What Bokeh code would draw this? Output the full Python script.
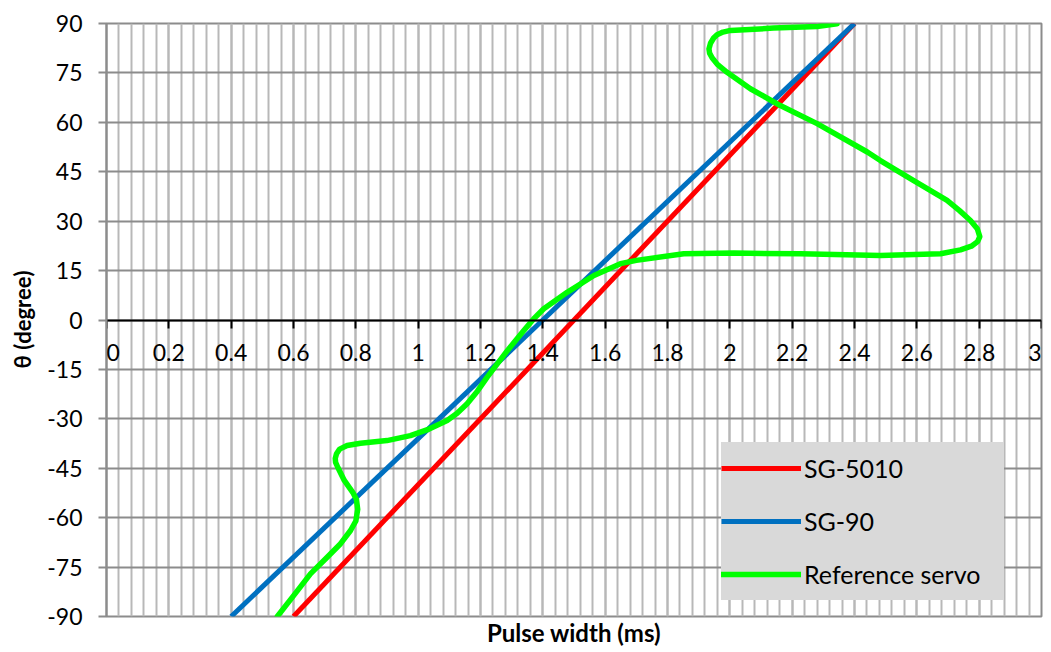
from bokeh.plotting import figure
from bokeh.models import (SingleIntervalTicker, NumeralTickFormatter, LinearAxis,
                          FixedTicker, Range1d, Label)
from bokeh.embed import file_html
from bokeh.resources import INLINE

# ---------------- data ----------------
sg5010_pulse = [0.6, 2.4]
sg5010_angle = [-90, 90]

sg90_pulse = [0.4, 2.4]
sg90_angle = [-90, 90]

ref_pulse = [0.548, 0.601, 0.655, 0.708, 0.751, 0.783, 0.800, 0.806, 0.802, 0.790,
             0.763, 0.742, 0.735, 0.734, 0.738, 0.748, 0.772, 0.815, 0.900, 0.975,
             1.030, 1.093, 1.125, 1.157, 1.190, 1.221, 1.286, 1.339, 1.371, 1.403,
             1.478, 1.564, 1.649, 1.700, 1.852, 2.013, 2.227, 2.483, 2.676, 2.740,
             2.775, 2.795, 2.802, 2.794, 2.772, 2.737, 2.697, 2.590, 2.483,
             2.441, 2.280, 2.162, 2.066, 1.991, 1.960, 1.943, 1.935, 1.933, 1.938,
             1.948, 1.959, 1.978, 2.002, 2.141, 2.280, 2.344]
ref_angle = [-90.0, -83.6, -77.0, -72.0, -67.9, -63.9, -61.0, -57.5, -54.5, -52.3,
             -48.7, -44.7, -43.2, -42.0, -40.6, -39.2, -38.1, -37.4, -36.6, -35.1,
             -33.3, -30.5, -28.3, -25.4, -21.6, -17.4, -9.3, -3.2, 0.4, 3.4,
             8.4, 13.5, 17.1, 18.1, 20.1, 20.3, 20.1, 19.6, 20.1, 21.3,
             22.4, 23.8, 25.3, 27.7, 30.2, 33.2, 36.3, 42.3, 48.4,
             51.0, 59.6, 65.1, 70.2, 75.2, 77.6, 79.6, 81.0, 82.3, 84.0,
             85.6, 86.6, 87.4, 87.9, 88.6, 89.1, 89.9]

series_names = ["SG-5010", "SG-90", "Reference servo"]
series_colors = ["#ff0000", "#0070c0", "#00ff00"]

x_ticks = [0, 0.2, 0.4, 0.6, 0.8, 1, 1.2, 1.4, 1.6, 1.8, 2, 2.2, 2.4, 2.6, 2.8, 3]
x_tick_labels = ["0", "0.2", "0.4", "0.6", "0.8", "1", "1.2", "1.4", "1.6", "1.8",
                 "2", "2.2", "2.4", "2.6", "2.8", "3"]
x_min, x_max, x_step = 0, 3, 0.2
y_min, y_max, y_step = -90, 90, 15

FONT = "Lato"
GRID_MAJOR = "#8c8c8c"
GRID_MINOR = "#b8b8b8"

# ---------------- figure ----------------
p = figure(width=1049, height=652,
           x_range=Range1d(x_min, x_max), y_range=Range1d(y_min, y_max),
           output_backend="svg", toolbar_location=None,
           min_border_left=106, min_border_right=8,
           min_border_top=23, min_border_bottom=36,
           background_fill_color="white", border_fill_color="white")

p.outline_line_color = GRID_MAJOR
p.outline_line_width = 2

# x axis drawn across the zero line
xax = p.xaxis[0]
xax.ticker = SingleIntervalTicker(interval=x_step, num_minor_ticks=5)
xax.formatter = NumeralTickFormatter(format="0.[0]")
xax.fixed_location = 0
xax.axis_line_color = "black"
xax.axis_line_width = 2
xax.major_tick_line_color = "black"
xax.major_tick_line_width = 2
xax.major_tick_in = 0
xax.major_tick_out = 8
xax.minor_tick_line_color = None
xax.major_label_text_color = None
xax.major_label_text_font_size = "0px"

# x tick labels under the zero line (end labels kept inside the frame)
for i, (xv, xl) in enumerate(zip(x_ticks, x_tick_labels)):
    align = "center"
    if i == 0:
        align = "left"
    elif i == len(x_ticks) - 1:
        align = "right"
    p.add_layout(Label(x=xv, y=0, text=xl, text_align=align, text_baseline="top",
                       y_offset=-24, text_font=FONT, text_font_size="23px",
                       text_color="black"))

# x axis title
xt = LinearAxis(ticker=FixedTicker(ticks=[]), axis_label="Pulse width (ms)")
xt.axis_line_color = None
xt.major_tick_line_color = None
xt.minor_tick_line_color = None
xt.major_label_text_font_size = "0px"
xt.axis_label_standoff = 1
xt.axis_label_text_font = FONT
xt.axis_label_text_font_style = "bold"
xt.axis_label_text_font_size = "24px"
xt.axis_label_text_color = "black"
p.add_layout(xt, "below")

# y axis
yax = p.yaxis[0]
yax.ticker = SingleIntervalTicker(interval=y_step, num_minor_ticks=0)
yax.formatter = NumeralTickFormatter(format="0")
yax.axis_line_color = GRID_MAJOR
yax.axis_line_width = 2
yax.major_tick_line_color = GRID_MAJOR
yax.major_tick_line_width = 2
yax.major_tick_in = 0
yax.major_tick_out = 8
yax.minor_tick_line_color = None
yax.major_label_standoff = 16
yax.major_label_text_font = FONT
yax.major_label_text_font_size = "23px"
yax.major_label_text_color = "black"
yax.axis_label = "θ (degree)"
yax.axis_label_standoff = 8
yax.axis_label_text_font = FONT
yax.axis_label_text_font_style = "bold"
yax.axis_label_text_font_size = "22px"
yax.axis_label_text_color = "black"

# grids
p.xgrid.grid_line_color = GRID_MINOR
p.xgrid.grid_line_width = 2
p.xgrid.minor_grid_line_color = GRID_MINOR
p.xgrid.minor_grid_line_width = 2
p.ygrid.grid_line_color = GRID_MAJOR
p.ygrid.grid_line_width = 2

# ---------------- series ----------------
p.line(sg5010_pulse, sg5010_angle, line_color=series_colors[0], line_width=5,
       legend_label=series_names[0])
p.line(sg90_pulse, sg90_angle, line_color=series_colors[1], line_width=5,
       legend_label=series_names[1])
p.line(ref_pulse, ref_angle, line_color=series_colors[2], line_width=5.5,
       line_join="round", line_cap="round", legend_label=series_names[2])

# ---------------- legend ----------------
lg = p.legend[0]
lg.location = (615, 16)
lg.background_fill_color = "#d9d9d9"
lg.background_fill_alpha = 1
lg.border_line_color = None
lg.label_text_font = FONT
lg.label_text_font_size = "25px"
lg.label_text_color = "black"
lg.glyph_width = 80
lg.glyph_height = 52
lg.label_height = 52
lg.label_width = 200
lg.label_standoff = 3
lg.spacing = 1
lg.padding = 0
lg.margin = 0

open("out.html", "w").write(file_html(p, INLINE))
